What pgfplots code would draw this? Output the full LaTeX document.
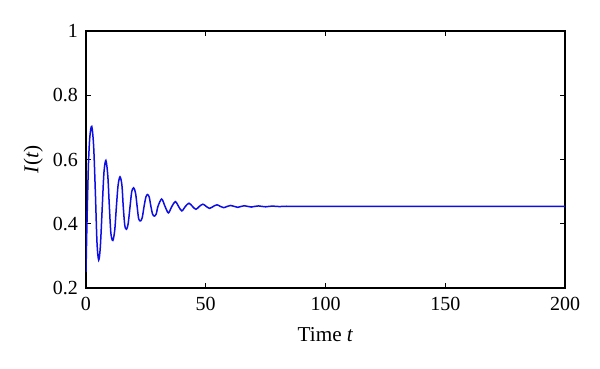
\documentclass[border=0pt]{standalone}
\usepackage{pgfplots}
\pgfplotsset{compat=1.18}
\usepackage{fontspec}
\setmainfont{Liberation Serif}
\begin{document}
\fontsize{10}{12}\selectfont
\begin{tikzpicture}
\path[use as bounding box] (-43pt,-40.5pt) rectangle (257pt,144pt);
\begin{axis}[
  at={(0,0)}, anchor=south west,
  scale only axis, width=239.5pt, height=128.5pt,
  xmin=0, xmax=200, ymin=0.2, ymax=1,
  xtick={0,50,100,150,200},
  ytick={0.2,0.4,0.6,0.8,1},
  tick align=inside, major tick length=2.5pt,
  tick style={black, line width=0.5pt},
  axis line style={line width=0.6pt},
  /pgf/number format/assume math mode=true,
  tick label style={font=\fontsize{10}{12}\selectfont},
  xticklabel style={yshift=-1pt},
  yticklabel style={xshift=-0.5pt},
  xlabel={Time \textit{t}},
  ylabel={\textit{I}(\textit{t})},
  xlabel style={at={(axis description cs:0.5,-0.21)}, anchor=base},
  ylabel style={at={(axis description cs:-0.11,0.5)}, anchor=center},
  label style={font=\fontsize{10.6}{12.7}\selectfont},
]
\addplot[color={rgb,1:red,0.05;green,0.05;blue,0.9}, line width=0.75pt, smooth, tension=0.5] coordinates {
(0,0.25) (0.4,0.40) (1.0,0.58) (1.6,0.67) (2.4,0.703) (3.2,0.64) (3.9,0.50)
(4.6,0.34) (5.3,0.287) (6.0,0.33) (6.8,0.454) (7.5,0.56) (8.3,0.597)
(9.1,0.55) (9.75,0.454) (10.4,0.37) (11.2,0.348) (12.0,0.38) (12.7,0.454)
(13.4,0.52) (14.2,0.546) (15.0,0.52) (15.55,0.454) (16.2,0.395) (16.9,0.383)
(17.6,0.40) (18.4,0.454) (19.1,0.50) (19.9,0.512) (20.7,0.495) (21.35,0.454)
(22.0,0.415) (22.8,0.409) (23.5,0.42) (24.25,0.454) (25.0,0.483) (25.7,0.491)
(26.4,0.483) (27.1,0.454) (27.8,0.43) (28.5,0.424) (29.3,0.43) (30.05,0.454)
(31.6,0.477) (33.0,0.454) (34.4,0.434) (35.85,0.454) (37.3,0.469) (38.65,0.454)
(40.0,0.44) (41.5,0.454) (43.0,0.464) (44.45,0.454) (45.9,0.445) (47.35,0.454)
(48.8,0.461) (50.2,0.454) (51.6,0.448) (53.15,0.454) (54.7,0.459) (56.1,0.454)
(57.5,0.450) (58.95,0.454) (60.4,0.457) (61.9,0.454) (63.4,0.451) (64.75,0.454)
(66.1,0.456) (67.6,0.454) (69.0,0.452) (70.5,0.454) (72.0,0.4555) (73.5,0.454)
(75.0,0.4528) (76.4,0.454) (77.8,0.455) (80.7,0.4535) (83.6,0.4545) (86.5,0.454)
(120,0.454) (160,0.454) (200,0.454)
};
\end{axis}
\end{tikzpicture}
\end{document}
